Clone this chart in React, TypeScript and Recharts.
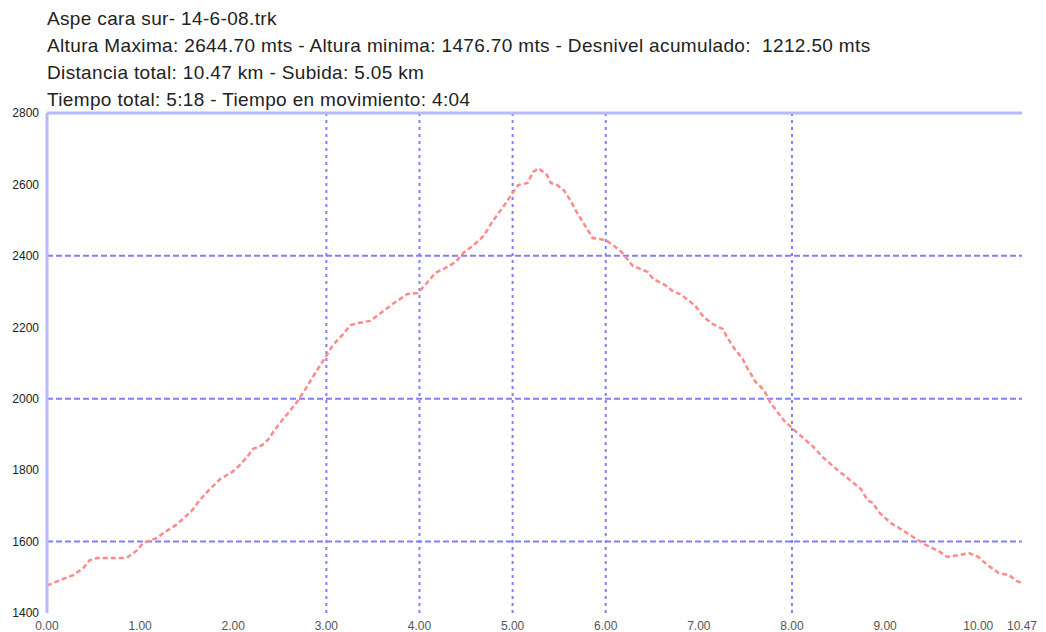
import React from 'react';
import { LineChart, Line, XAxis, YAxis, ReferenceLine } from 'recharts';

// distance (km) and elevation (m)
const distance = [
  0.0, 0.14, 0.28, 0.39, 0.46, 0.54, 0.82, 0.87, 0.97, 1.03, 1.18, 1.25, 1.4, 1.56, 1.64, 1.73, 1.86, 1.99,
  2.07, 2.15, 2.21, 2.31, 2.37, 2.43, 2.5, 2.59, 2.7, 2.79, 2.88, 2.97, 3.07, 3.17, 3.26, 3.34, 3.47, 3.6,
  3.71, 3.87, 3.98, 4.06, 4.17, 4.3, 4.39, 4.47, 4.58, 4.69, 4.78, 4.89, 5.0, 5.06, 5.16, 5.22, 5.28, 5.37,
  5.41, 5.48, 5.55, 5.62, 5.68, 5.76, 5.86, 6.0, 6.08, 6.17, 6.29, 6.45, 6.51, 6.64, 6.73, 6.8, 6.91, 6.97,
  7.05, 7.15, 7.26, 7.29, 7.37, 7.47, 7.52, 7.61, 7.7, 7.77, 7.83, 7.91, 8.06, 8.23, 8.34, 8.49, 8.56, 8.74,
  8.81, 8.87, 8.93, 9.06, 9.15, 9.3, 9.42, 9.57, 9.67, 9.79, 9.9, 10.0, 10.1, 10.22, 10.33, 10.41, 10.47,
];
const elevation = [
  1477, 1492, 1506, 1526, 1548, 1554, 1554, 1557, 1576, 1596, 1610, 1624, 1649, 1688, 1716, 1742, 1775, 1795,
  1814, 1837, 1859, 1870, 1884, 1907, 1932, 1960, 1996, 2033, 2072, 2108, 2150, 2178, 2206, 2212, 2218, 2243,
  2265, 2293, 2296, 2318, 2352, 2369, 2383, 2408, 2430, 2456, 2495, 2534, 2576, 2598, 2604, 2635, 2645, 2626,
  2604, 2598, 2584, 2556, 2526, 2492, 2450, 2444, 2430, 2411, 2372, 2355, 2335, 2318, 2299, 2293, 2271, 2257,
  2229, 2209, 2195, 2178, 2145, 2111, 2086, 2047, 2024, 1988, 1968, 1940, 1904, 1865, 1834, 1800, 1786, 1747,
  1716, 1708, 1683, 1652, 1638, 1613, 1593, 1574, 1557, 1562, 1568, 1557, 1534, 1512, 1506, 1490, 1484,
];

const xTicks = [0, 1, 2, 3, 4, 5, 6, 7, 8, 9, 10, 10.47];
const yTicks = [1400, 1600, 1800, 2000, 2200, 2400, 2600, 2800];
const xGrid = [3, 4, 5, 6, 8];
const yGrid = [1600, 2000, 2400];

const headerLines = [
  'Aspe cara sur- 14-6-08.trk',
  'Altura Maxima: 2644.70 mts - Altura minima: 1476.70 mts - Desnivel acumulado:  1212.50 mts',
  'Distancia total: 10.47 km - Subida: 5.05 km',
  'Tiempo total: 5:18 - Tiempo en movimiento: 4:04',
];

const data = distance.map((d, i) => ({ d, h: elevation[i] }));

const fontFamily = 'Arial, "Liberation Sans", sans-serif';

export default function App() {
  return (
    <div style={{ position: 'absolute', left: 0, top: 0, width: 1046, height: 632, background: '#fff' }}>
      <div
        style={{
          position: 'absolute',
          left: 47,
          top: 5,
          fontFamily,
          fontSize: 19,
          letterSpacing: 0.35,
          color: '#222',
          lineHeight: '27px',
        }}
      >
        {headerLines.map((t) => (
          <div key={t} style={{ whiteSpace: 'pre' }}>{t}</div>
        ))}
      </div>
      <LineChart
        width={1046}
        height={632}
        data={data}
        margin={{ top: 113, right: 24, bottom: 0, left: 0 }}
        style={{ position: 'absolute', left: 0, top: 0 }}
      >
        <XAxis
          dataKey="d"
          type="number"
          domain={[0, 10.47]}
          ticks={xTicks}
          tickFormatter={(v: number) => v.toFixed(2)}
          axisLine={false}
          tickLine={false}
          height={19}
          interval={0}
          tick={{ fontSize: 12, fill: '#555', fontFamily }}
        />
        <YAxis
          type="number"
          domain={[1400, 2800]}
          ticks={yTicks}
          width={47}
          tickLine={false}
          axisLine={{ stroke: '#b8b8ff', strokeWidth: 3 }}
          tick={{ fontSize: 12, fill: '#222', fontFamily }}
          tickMargin={2}
        />
        {yGrid.map((v) => (
          <ReferenceLine key={'y' + v} y={v} stroke="#8080ff" strokeWidth={2} strokeDasharray="6 3" />
        ))}
        {xGrid.map((v) => (
          <ReferenceLine key={'x' + v} x={v} stroke="#8080ff" strokeWidth={2} strokeDasharray="3 4" />
        ))}
        <ReferenceLine y={2800} stroke="#b8b8ff" strokeWidth={3} />
        <Line
          type="linear"
          dataKey="h"
          stroke="#ff8a8a"
          strokeWidth={2.5}
          strokeDasharray="5 3"
          dot={false}
          isAnimationActive={false}
        />
      </LineChart>
    </div>
  );
}
